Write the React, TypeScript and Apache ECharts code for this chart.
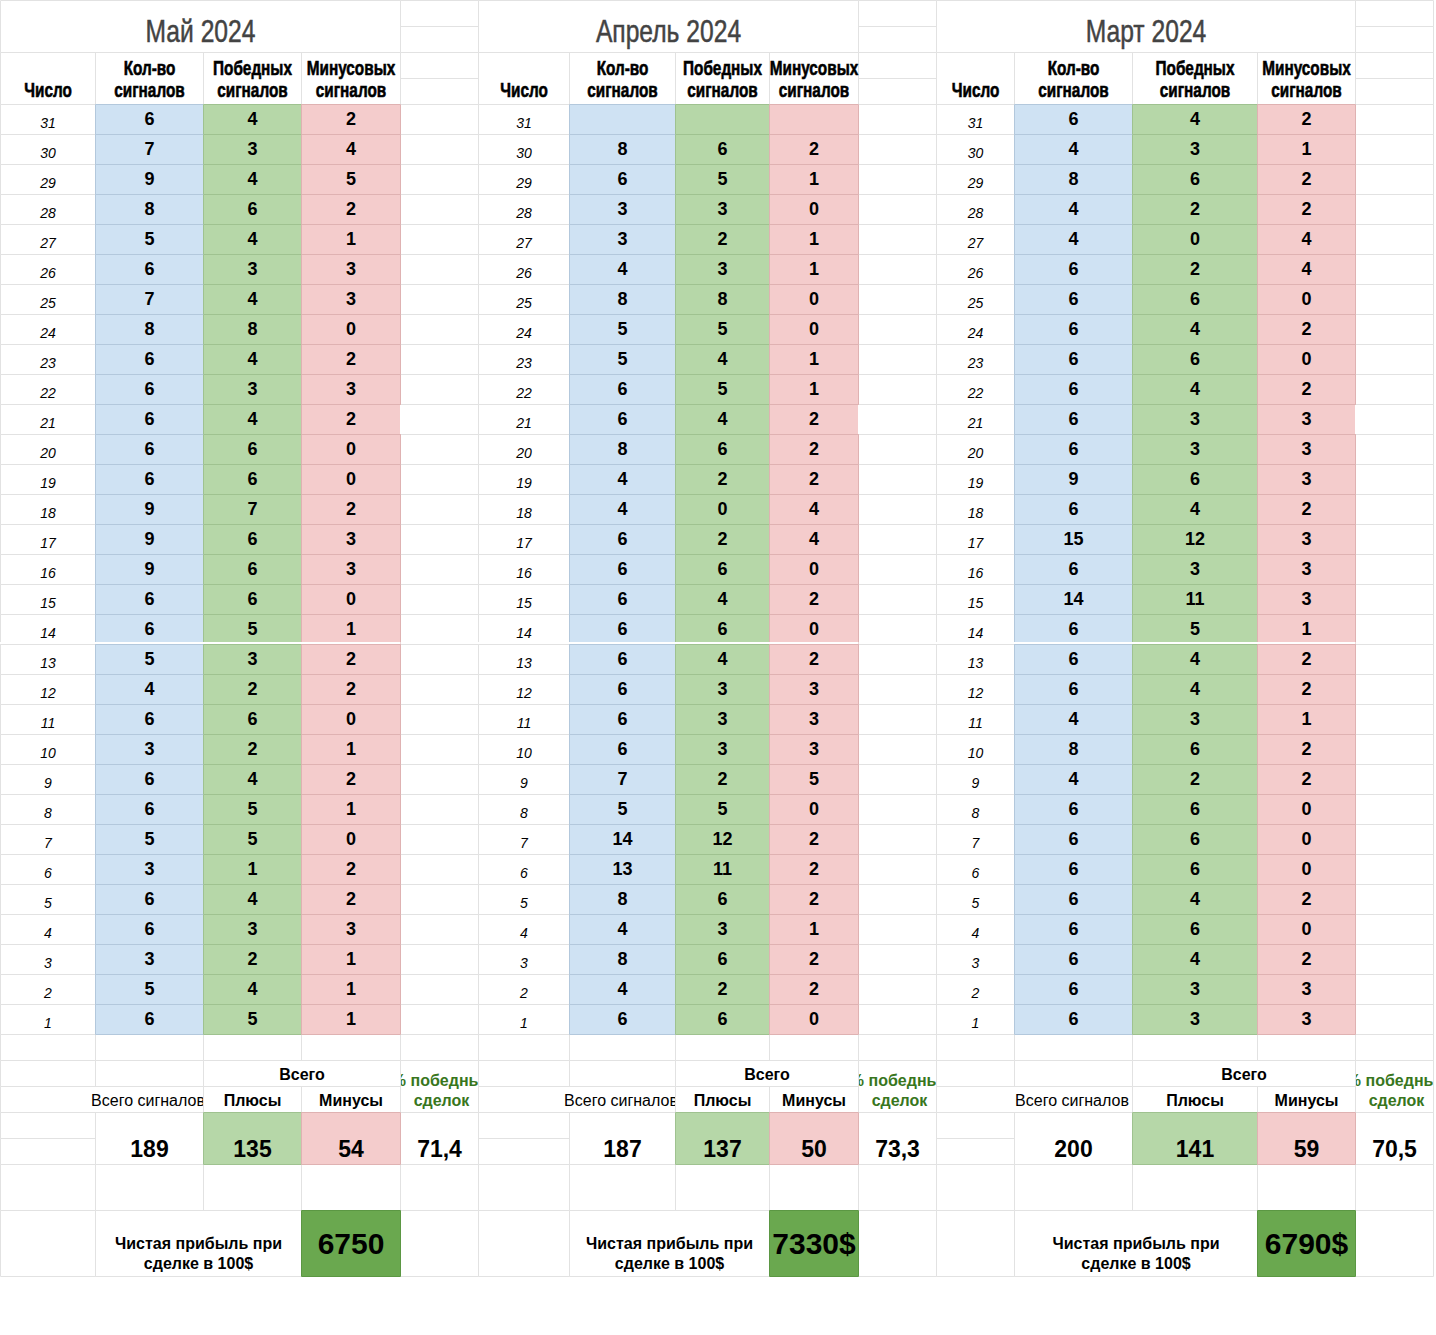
import React, { useEffect, useRef } from "react";
import * as echarts from "echarts";

// ---------------- DATA ----------------
const monthTitles = ["Май 2024", "Апрель 2024", "Март 2024"];
const dayHeader = "Число";
const columnHeaders = [
  ["Кол-во", "сигналов"],
  ["Победных", "сигналов"],
  ["Минусовых", "сигналов"],
];
const days = [31, 30, 29, 28, 27, 26, 25, 24, 23, 22, 21, 20, 19, 18, 17, 16, 15, 14, 13, 12, 11, 10, 9, 8, 7, 6, 5, 4, 3, 2, 1];

const maySignals = [6, 7, 9, 8, 5, 6, 7, 8, 6, 6, 6, 6, 6, 9, 9, 9, 6, 6, 5, 4, 6, 3, 6, 6, 5, 3, 6, 6, 3, 5, 6];
const mayWins = [4, 3, 4, 6, 4, 3, 4, 8, 4, 3, 4, 6, 6, 7, 6, 6, 6, 5, 3, 2, 6, 2, 4, 5, 5, 1, 4, 3, 2, 4, 5];
const mayLosses = [2, 4, 5, 2, 1, 3, 3, 0, 2, 3, 2, 0, 0, 2, 3, 3, 0, 1, 2, 2, 0, 1, 2, 1, 0, 2, 2, 3, 1, 1, 1];

const aprSignals = [null, 8, 6, 3, 3, 4, 8, 5, 5, 6, 6, 8, 4, 4, 6, 6, 6, 6, 6, 6, 6, 6, 7, 5, 14, 13, 8, 4, 8, 4, 6];
const aprWins = [null, 6, 5, 3, 2, 3, 8, 5, 4, 5, 4, 6, 2, 0, 2, 6, 4, 6, 4, 3, 3, 3, 2, 5, 12, 11, 6, 3, 6, 2, 6];
const aprLosses = [null, 2, 1, 0, 1, 1, 0, 0, 1, 1, 2, 2, 2, 4, 4, 0, 2, 0, 2, 3, 3, 3, 5, 0, 2, 2, 2, 1, 2, 2, 0];

const marSignals = [6, 4, 8, 4, 4, 6, 6, 6, 6, 6, 6, 6, 9, 6, 15, 6, 14, 6, 6, 6, 4, 8, 4, 6, 6, 6, 6, 6, 6, 6, 6];
const marWins = [4, 3, 6, 2, 0, 2, 6, 4, 6, 4, 3, 3, 6, 4, 12, 3, 11, 5, 4, 4, 3, 6, 2, 6, 6, 6, 4, 6, 4, 3, 3];
const marLosses = [2, 1, 2, 2, 4, 4, 0, 2, 0, 2, 3, 3, 3, 2, 3, 3, 3, 1, 2, 2, 1, 2, 2, 0, 0, 0, 2, 0, 2, 3, 3];

const totalSignals = [189, 187, 200];
const totalWins = [135, 137, 141];
const totalLosses = [54, 50, 59];
const winRates = ["71,4", "73,3", "70,5"];
const profits = ["6750", "7330$", "6790$"];

const totalLabel = "Всего";
const totalSignalsLabel = "Всего сигналов";
const winsLabel = "Плюсы";
const lossesLabel = "Минусы";
const winRateLabel = ["% победных", "сделок"];
const profitLabel = ["Чистая прибыль при", "сделке в 100$"];

const monthSignals = [maySignals, aprSignals, marSignals];
const monthWins = [mayWins, aprWins, marWins];
const monthLosses = [mayLosses, aprLosses, marLosses];

// ---------------- LAYOUT ----------------
const PAGE_W = 1436;
const PAGE_H = 1335;
const BLOCK_COLS = [
  [0.5, 95.5, 203.5, 301.5, 400.5, 478.5],
  [478.5, 569.5, 675.5, 769.5, 858.5, 936.5],
  [936.5, 1014.5, 1132.5, 1257.5, 1355.5, 1433.5],
];
const Y_TOP = 0.5;
const Y_TITLE_MID = 26.5;
const Y_TITLE_END = 52.5;
const Y_HEAD_MID = 78.5;
const Y_HEAD_END = 104.5;
const ROW_H = 30;
const Y_DATA_END = Y_HEAD_END + ROW_H * 31;
const Y_TOT1 = 1060.5;
const Y_TOT2 = 1086.5;
const Y_VAL = 1112.5;
const Y_VAL_MID = 1138.5;
const Y_VAL_END = 1164.5;
const Y_PROFIT = 1210.5;
const Y_END = 1276.5;

const GRID = "#e2e2e2";
const FILLS: Record<string, [string, string]> = {
  blue: ["#cfe2f3", "#b3c8dc"],
  green: ["#b6d7a8", "#9fc290"],
  red: ["#f4cccc", "#dfb2b2"],
  dark: ["#6aa84f", "#5b9743"],
};
const ARIAL = "Arial, 'Liberation Sans', Helvetica, sans-serif";

type Box = { x0: number; y0: number; x1: number; y1: number; fill?: string; stroke?: string };
type Txt = {
  x: number; y: number; text: string; size: number; weight?: string; italic?: boolean;
  color?: string; sx?: number; heavy?: number;
};

function buildTable() {
  const fills: Box[] = [];
  const grayBorders: Box[] = [];
  const colorBorders: Box[] = [];
  const overlays: Box[] = [];
  const texts: Txt[] = [];
  const overflow: Txt[] = [];

  const cell = (x0: number, y0: number, x1: number, y1: number, kind = "plain") => {
    if (kind === "plain") {
      grayBorders.push({ x0, y0, x1, y1, stroke: GRID });
    } else {
      const [f, s] = FILLS[kind];
      fills.push({ x0, y0, x1, y1, fill: f });
      colorBorders.push({ x0, y0, x1, y1, stroke: s });
    }
  };
  const cover = (x0: number, y0: number, x1: number, y1: number) =>
    fills.push({ x0, y0, x1, y1, fill: "#ffffff" });

  BLOCK_COLS.forEach((cols, b) => {
    const [a, bb, cc, d, e, f] = cols;
    const mid = (u: number, v: number) => (u + v) / 2;

    // title row
    cell(a, Y_TOP, e, Y_TITLE_END);
    cell(e, Y_TOP, f, Y_TITLE_MID);
    cell(e, Y_TITLE_MID, f, Y_TITLE_END);
    texts.push({ x: mid(a, e), y: 30.5, text: monthTitles[b], size: 32, color: "#434343", sx: 0.77, heavy: 0.5 });

    // header row
    cell(a, Y_TITLE_END, bb, Y_HEAD_END);
    cell(bb, Y_TITLE_END, cc, Y_HEAD_END);
    cell(cc, Y_TITLE_END, d, Y_HEAD_END);
    cell(d, Y_TITLE_END, e, Y_HEAD_END);
    cell(e, Y_TITLE_END, f, Y_HEAD_MID);
    cell(e, Y_HEAD_MID, f, Y_HEAD_END);
    texts.push({ x: mid(a, bb), y: 89.5, text: dayHeader, size: 21, weight: "bold", sx: 0.73, heavy: 0.6 });
    [[bb, cc], [cc, d], [d, e]].forEach(([u, v], k) => {
      texts.push({ x: mid(u, v), y: 67.5, text: columnHeaders[k][0], size: 21, weight: "bold", sx: 0.73, heavy: 0.6 });
      texts.push({ x: mid(u, v), y: 89.5, text: columnHeaders[k][1], size: 21, weight: "bold", sx: 0.73, heavy: 0.6 });
    });

    // data rows
    days.forEach((day, i) => {
      const y0 = Y_HEAD_END + ROW_H * i;
      const y1 = y0 + ROW_H;
      cell(a, y0, bb, y1);
      cell(bb, y0, cc, y1, "blue");
      cell(cc, y0, d, y1, "green");
      cell(d, y0, e, y1, "red");
      cell(e, y0, f, y1);
      texts.push({ x: mid(a, bb), y: y0 + 18, text: String(day), size: 14, italic: true });
      const vals = [monthSignals[b][i], monthWins[b][i], monthLosses[b][i]];
      [[bb, cc], [cc, d], [d, e]].forEach(([u, v], k) => {
        const val = vals[k];
        if (val !== null && val !== undefined) {
          texts.push({ x: mid(u, v), y: y0 + 14.8, text: String(val), size: 18, weight: "bold" });
        }
      });
      if (day === 14) overlays.push({ x0: a - 0.5, y0: y1 - 2.5, x1: e, y1: y1 - 0.5, fill: "#ffffff" });
      if (day === 21) overlays.push({ x0: e - 0.5, y0: y0 + 0.5, x1: e + 0.5, y1: y1 - 0.5, fill: "#ffffff" });
    });

    // blank row
    [[a, bb], [bb, cc], [cc, d], [d, e], [e, f]].forEach(([u, v]) => cell(u, Y_DATA_END, v, Y_TOT1));

    // totals header rows
    cell(a, Y_TOT1, bb, Y_TOT2);
    cell(bb, Y_TOT1, cc, Y_TOT2);
    cell(cc, Y_TOT1, e, Y_TOT2);
    cell(e, Y_TOT1, f, Y_VAL);
    cell(a, Y_TOT2, cc, Y_VAL); // A/B line hidden by overflowing text
    cell(cc, Y_TOT2, d, Y_VAL);
    cell(d, Y_TOT2, e, Y_VAL);
    texts.push({ x: mid(cc, e), y: 1074, text: totalLabel, size: 16, weight: "bold" });
    texts.push({ x: mid(cc, d), y: 1100, text: winsLabel, size: 16, weight: "bold" });
    texts.push({ x: mid(d, e), y: 1100, text: lossesLabel, size: 16, weight: "bold" });
    overflow.push({ x: mid(bb, cc) - 1.5, y: 1100, text: totalSignalsLabel, size: 16 });
    overflow.push({ x: mid(e, f) + 2, y: 1080.5, text: winRateLabel[0], size: 16, weight: "bold", color: "#38761d" });
    texts.push({ x: mid(e, f) + 2, y: 1100.5, text: winRateLabel[1], size: 16, weight: "bold", color: "#38761d" });
    cover(cc, Y_TOT2, d, Y_VAL);
    cover(cc, Y_TOT1, e, Y_VAL);
    cover(f, Y_TOT1, f + 22, Y_VAL);

    // values row
    cell(a, Y_VAL, bb, Y_VAL_MID);
    cell(a, Y_VAL_MID, bb, Y_VAL_END);
    cell(bb, Y_VAL, cc, Y_VAL_END);
    cell(cc, Y_VAL, d, Y_VAL_END, "green");
    cell(d, Y_VAL, e, Y_VAL_END, "red");
    cell(e, Y_VAL, f, Y_VAL_END);
    texts.push({ x: mid(bb, cc), y: 1148.5, text: String(totalSignals[b]), size: 23, weight: "bold" });
    texts.push({ x: mid(cc, d), y: 1148.5, text: String(totalWins[b]), size: 23, weight: "bold" });
    texts.push({ x: mid(d, e), y: 1148.5, text: String(totalLosses[b]), size: 23, weight: "bold" });
    texts.push({ x: mid(e, f), y: 1148.5, text: winRates[b], size: 23, weight: "bold" });

    // blank row
    [[a, bb], [bb, cc], [cc, d], [d, e], [e, f]].forEach(([u, v]) => cell(u, Y_VAL_END, v, Y_PROFIT));

    // profit row
    cell(a, Y_PROFIT, bb, Y_END);
    cell(bb, Y_PROFIT, d, Y_END);
    cell(d, Y_PROFIT, e, Y_END, "dark");
    cell(e, Y_PROFIT, f, Y_END);
    texts.push({ x: mid(bb, d), y: 1243.5, text: profitLabel[0], size: 16, weight: "bold" });
    texts.push({ x: mid(bb, d), y: 1263.5, text: profitLabel[1], size: 16, weight: "bold" });
    texts.push({ x: mid(d, e), y: 1243.5, text: profits[b], size: 30, weight: "bold" });
  });

  return { fills, borders: [...grayBorders, ...colorBorders, ...overlays], texts, overflow };
}

function boxSeries(list: Box[], z: number) {
  return {
    type: "custom",
    coordinateSystem: "cartesian2d",
    silent: true,
    z,
    data: list.map((bx) => [bx.x0, bx.y0, bx.x1, bx.y1]),
    renderItem: (params: any, api: any) => {
      const bx = list[params.dataIndex];
      const p0 = api.coord([api.value(0), api.value(1)]);
      const p1 = api.coord([api.value(2), api.value(3)]);
      return {
        type: "rect",
        shape: { x: p0[0], y: p0[1], width: p1[0] - p0[0], height: p1[1] - p0[1] },
        style: { fill: bx.fill || "none", stroke: bx.stroke || "none", lineWidth: 1 },
      };
    },
  };
}

function textSeries(list: Txt[], z: number) {
  return {
    type: "custom",
    coordinateSystem: "cartesian2d",
    silent: true,
    z,
    data: list.map((t) => [t.x, t.y]),
    renderItem: (params: any, api: any) => {
      const t = list[params.dataIndex];
      const p = api.coord([api.value(0), api.value(1)]);
      const color = t.color || "#000000";
      return {
        type: "text",
        x: p[0],
        y: p[1],
        scaleX: t.sx || 1,
        style: {
          text: t.text,
          x: 0,
          y: 0,
          fill: color,
          stroke: t.heavy ? color : "none",
          lineWidth: t.heavy || 0,
          fontSize: t.size,
          fontFamily: ARIAL,
          fontWeight: t.weight || "normal",
          fontStyle: t.italic ? "italic" : "normal",
          align: "center",
          verticalAlign: "middle",
        },
      };
    },
  };
}

export default function App() {
  const ref = useRef<HTMLDivElement>(null);
  useEffect(() => {
    if (!ref.current) return;
    const chart = echarts.init(ref.current, undefined, { renderer: "svg" });
    const { fills, borders, texts, overflow } = buildTable();
    chart.setOption({
      animation: false,
      backgroundColor: "#ffffff",
      grid: { left: 0, right: 0, top: 0, bottom: 0 },
      xAxis: { type: "value", min: 0, max: PAGE_W, show: false },
      yAxis: { type: "value", min: 0, max: PAGE_H, inverse: true, show: false },
      series: [
        textSeries(overflow, 1),
        boxSeries(fills, 2),
        boxSeries(borders, 3),
        textSeries(texts, 4),
      ],
    });
    return () => chart.dispose();
  }, []);
  return (
    <div
      ref={ref}
      style={{ position: "absolute", left: 0, top: 0, width: PAGE_W, height: PAGE_H }}
    />
  );
}
